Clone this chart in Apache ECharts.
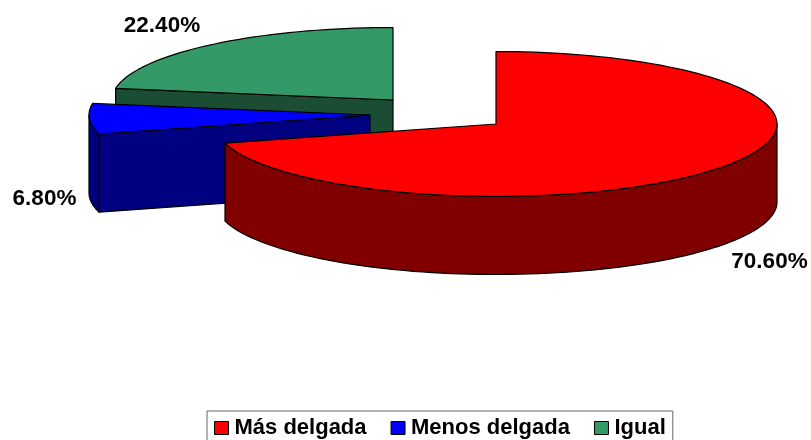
<!DOCTYPE html>
<html>
<head>
<meta charset="utf-8">
<style>
  html, body { margin: 0; padding: 0; background: #fff; }
  #chart { width: 811px; height: 440px; }
</style>
<script src="https://cdn.jsdelivr.net/npm/echarts@6/dist/echarts.min.js"></script>
</head>
<body>
<div id="chart"></div>
<script>
// datos
var categories = ['Más delgada', 'Menos delgada', 'Igual'];
var values = [70.6, 6.8, 22.4];
var topColors = ['#ff0000', '#0000ff', '#339966'];
var sideColors = ['#800000', '#000080', '#1a4d33'];

// geometria del pastel 3D (cada porcion va desplazada)
var sliceCenters = [[496, 124], [370, 115], [393, 100]];
var labelPositions = [[769.5, 262], [44.5, 199], [162, 26]];
var rx = 281, ry = 72.5, depth = 78;

var total = values.reduce(function (a, b) { return a + b; }, 0);

function arc(c, a1, a2, dy) {
  // angulos en grados, desde las 12 en sentido horario
  var pts = [];
  var n = Math.max(2, Math.ceil(Math.abs(a2 - a1) / 2));
  for (var i = 0; i <= n; i++) {
    var t = (a1 + (a2 - a1) * i / n) * Math.PI / 180;
    pts.push([c[0] + rx * Math.sin(t), c[1] - ry * Math.cos(t) + dy]);
  }
  return pts;
}

function poly(points, fill) {
  return {
    type: 'polygon',
    shape: { points: points },
    style: { fill: fill, stroke: '#000', lineWidth: 1.2, lineJoin: 'round' }
  };
}

function makeRender(idx) {
  return function (params, api) {
    var before = 0;
    for (var i = 0; i < idx; i++) before += values[i];
    var a1 = before / total * 360;
    var a2 = a1 + api.value(0) / total * 360;
    var c = sliceCenters[idx];
    var children = [];

    // pared radial del inicio, visible si mira al frente
    if (Math.sin(a1 * Math.PI / 180) < -0.001) {
      var p = arc(c, a1, a1, 0)[0];
      children.push(poly([c, p, [p[0], p[1] + depth], [c[0], c[1] + depth]], sideColors[idx]));
    }
    // pared exterior: solo la mitad delantera (90 a 270)
    var w1 = Math.max(a1, 90), w2 = Math.min(a2, 270);
    if (w2 > w1) {
      var up = arc(c, w1, w2, 0);
      var down = arc(c, w1, w2, depth).reverse();
      children.push(poly(up.concat(down), sideColors[idx]));
    }
    // cara superior
    children.push(poly([c].concat(arc(c, a1, a2, 0)), topColors[idx]));
    // etiqueta
    children.push({
      type: 'text',
      style: {
        x: labelPositions[idx][0],
        y: labelPositions[idx][1],
        text: api.value(0).toFixed(2) + '%',
        fill: '#000',
        font: 'bold 22.5px "Liberation Sans", Arial, sans-serif',
        textAlign: 'center',
        textVerticalAlign: 'middle'
      }
    });
    return { type: 'group', children: children };
  };
}

// se dibuja de atras hacia delante
var series = [2, 1, 0].map(function (idx, order) {
  return {
    type: 'custom',
    name: categories[idx],
    coordinateSystem: 'none',
    z: order + 1,
    silent: true,
    itemStyle: { color: topColors[idx] },
    data: [[values[idx]]],
    renderItem: makeRender(idx)
  };
});

var myChart = echarts.init(document.getElementById('chart'));
myChart.setOption({
  animation: false,
  backgroundColor: '#fff',
  legend: {
    left: 207,
    top: 411,
    orient: 'horizontal',
    selectedMode: false,
    padding: [6, 7, 6, 7],
    itemGap: 24,
    itemWidth: 14,
    itemHeight: 13,
    borderColor: '#666',
    borderWidth: 1,
    textStyle: {
      color: '#000',
      fontSize: 22,
      fontWeight: 'bold',
      padding: [0, 0, 0, 1],
      fontFamily: '"Liberation Sans", Arial, sans-serif'
    },
    data: categories.map(function (name, i) {
      return {
        name: name,
        icon: 'rect',
        itemStyle: { color: topColors[i], borderColor: '#000', borderWidth: 1 }
      };
    })
  },
  series: series
});
</script>
</body>
</html>
